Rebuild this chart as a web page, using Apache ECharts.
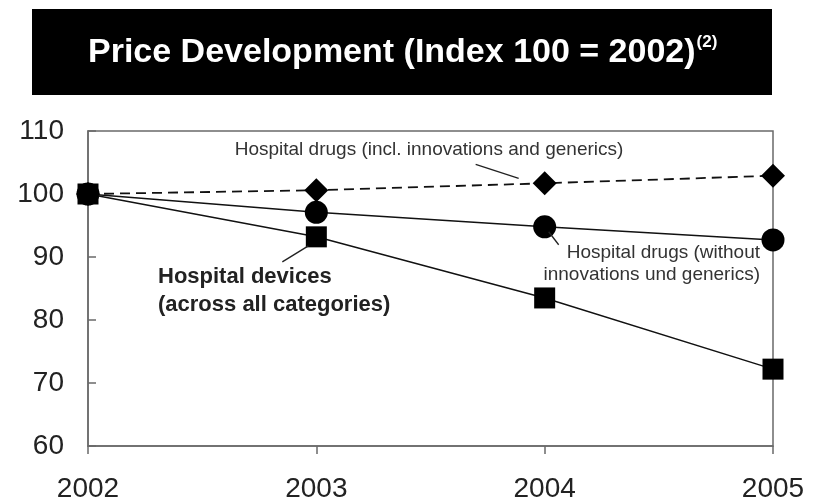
<!DOCTYPE html>
<html>
<head>
<meta charset="utf-8">
<script src="https://cdn.jsdelivr.net/npm/echarts@6/dist/echarts.min.js"></script>
<style>
  html, body { margin: 0; padding: 0; background: #fff; }
  #chart { width: 817px; height: 499px; }
</style>
</head>
<body>
<div id="chart"></div>
<script>
// Price index by year, 2002 = 100
const years = ['2002', '2003', '2004', '2005'];
const drugsInclInnovations = [100, 100.6, 101.7, 102.9];
const drugsWithoutInnovations = [100, 97.1, 94.8, 92.7];
const hospitalDevices = [100, 93.2, 83.5, 72.2];
const yTicks = { min: 60, max: 110, interval: 10 };

const titleText = 'Price Development (Index 100 = 2002)';
const titleNote = '(2)';
const labelIncl = 'Hospital drugs (incl. innovations and generics)';
const labelWithout = ['Hospital drugs (without', 'innovations und generics)'];
const labelDevices = ['Hospital devices', '(across all categories)'];

const FONT = '"Liberation Sans", Arial, sans-serif';
const chart = echarts.init(document.getElementById('chart'), null, { renderer: 'canvas' });

const lineStyleBase = { color: '#111', width: 1.5 };

chart.setOption({
  animation: false,
  backgroundColor: '#fff',
  grid: {
    left: 88, right: 44, top: 131, bottom: 53,
    outerBoundsMode: 'none',
    containLabel: false,
    show: true, borderColor: '#6a6a6a', borderWidth: 1.5, backgroundColor: 'transparent'
  },
  xAxis: {
    type: 'category',
    data: years,
    boundaryGap: false,
    axisLine: { lineStyle: { color: '#6a6a6a', width: 1.5 } },
    axisTick: { show: true, inside: false, length: 8, lineStyle: { color: '#6a6a6a', width: 1.5 } },
    axisLabel: { color: '#222', fontSize: 28, fontFamily: FONT, margin: 29 },
    splitLine: { show: false }
  },
  yAxis: {
    type: 'value',
    min: yTicks.min, max: yTicks.max, interval: yTicks.interval,
    axisLine: { show: true, lineStyle: { color: '#6a6a6a', width: 1.5 } },
    axisTick: { show: true, inside: true, length: 8, lineStyle: { color: '#6a6a6a', width: 1.5 } },
    axisLabel: { color: '#222', fontSize: 28, fontFamily: FONT, margin: 24 },
    splitLine: { show: false }
  },
  series: [
    {
      name: labelIncl,
      type: 'line',
      data: drugsInclInnovations,
      symbol: 'diamond', symbolSize: [24, 24],
      itemStyle: { color: '#000' },
      lineStyle: Object.assign({}, lineStyleBase, { type: [10, 6], width: 1.8 }),
      z: 2
    },
    {
      name: labelWithout.join(' '),
      type: 'line',
      data: drugsWithoutInnovations,
      symbol: 'circle', symbolSize: 23,
      itemStyle: { color: '#000' },
      lineStyle: lineStyleBase,
      z: 3
    },
    {
      name: labelDevices.join(' '),
      type: 'line',
      data: hospitalDevices,
      symbol: 'rect', symbolSize: 21,
      itemStyle: { color: '#000' },
      lineStyle: lineStyleBase,
      z: 4
    }
  ]
});

// Leader lines from annotations to their data points
function px(i, v) { return chart.convertToPixel({ gridIndex: 0 }, [i, v]); }
const pIncl = px(2, drugsInclInnovations[2]);
const pWithout = px(2, drugsWithoutInnovations[2]);
const pDev = px(1, hospitalDevices[1]);
const leader = (a, b) => ({
  type: 'line', silent: true, z: 10,
  shape: { x1: a[0], y1: a[1], x2: b[0], y2: b[1] },
  style: { stroke: '#222', lineWidth: 1.3 }
});

chart.setOption({
  graphic: [
    {
      type: 'rect', shape: { x: 32, y: 9, width: 740, height: 86 },
      style: { fill: '#000' }, z: 1
    },
    {
      type: 'text', x: 88, y: 53, z: 2,
      style: {
        text: '{m|' + titleText + '}{s|' + titleNote + '}',
        verticalAlign: 'middle',
        rich: {
          m: { fill: '#fff', fontSize: 34, fontWeight: 'bold', fontFamily: FONT, lineHeight: 38 },
          s: { fill: '#fff', fontSize: 17, fontWeight: 'bold', fontFamily: FONT, verticalAlign: 'top', lineHeight: 38, padding: [0, 0, 14, 1] }
        }
      }
    },
    {
      type: 'text', x: 429, y: 150, z: 5,
      style: { text: labelIncl, fill: '#333', fontSize: 19, fontFamily: FONT, align: 'center', verticalAlign: 'middle' }
    },
    {
      type: 'text', x: 760, y: 264, z: 5,
      style: { text: labelWithout.join('\n'), fill: '#333', fontSize: 19, lineHeight: 22, fontFamily: FONT, align: 'right', verticalAlign: 'middle' }
    },
    {
      type: 'text', x: 158, y: 291, z: 5,
      style: { text: labelDevices.join('\n'), fill: '#222', fontSize: 22, fontWeight: 'bold', lineHeight: 28, fontFamily: FONT, align: 'left', verticalAlign: 'middle' }
    },
    leader([pIncl[0] - 69, pIncl[1] - 19], [pIncl[0] - 26, pIncl[1] - 5]),
    leader([pWithout[0] + 4, pWithout[1] + 5], [pWithout[0] + 14, pWithout[1] + 18]),
    leader([pDev[0] - 34, pDev[1] + 25], [pDev[0] - 8, pDev[1] + 9])
  ]
});
</script>
</body>
</html>
